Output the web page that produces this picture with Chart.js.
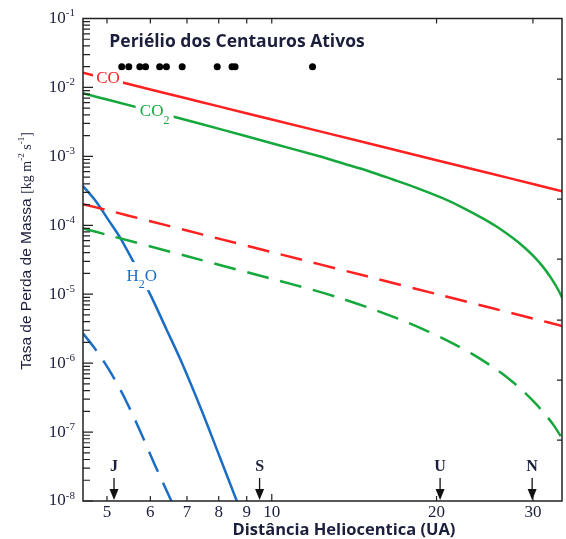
<!DOCTYPE html>
<html>
<head>
<meta charset="utf-8">
<script src="https://cdn.jsdelivr.net/npm/chart.js@4.4.0/dist/chart.umd.min.js"></script>
<style>
  html, body { margin: 0; padding: 0; background: #fff; }
</style>
</head>
<body>
<canvas id="massLoss" width="566" height="539"></canvas>
<script>
// Distances in UA, rates in kg m^-2 s^-1
const coDist    = [4.52, 5, 6, 7, 8, 10, 15, 20, 25, 30, 34];
const coSolid   = [0.0163, 0.0134, 0.00934, 0.00691, 0.00531, 0.00343, 0.00155, 0.000879, 0.000568, 0.000397, 0.000310];
const coDashed  = [2.03e-4, 1.66e-4, 1.145e-4, 8.38e-5, 6.40e-5, 4.08e-5, 1.80e-5, 1.005e-5, 6.4e-6, 4.44e-6, 3.44e-6];

const co2Dist   = [4.52, 5.0, 6.73, 8.08, 10, 12.17, 13.51, 15.0, 16.65, 18.49, 20.52, 22.31, 24.25,
                   25.82, 27.49, 28.91, 30.14, 31.43, 32.5, 33.32, 34.02];
const co2Solid  = [8.21e-3, 6.67e-3, 3.63e-3, 2.46e-3, 1.55e-3, 1.01e-3, 7.88e-4, 6.14e-4, 4.62e-4, 3.44e-4, 2.47e-4, 1.81e-4, 1.27e-4,
                   9.42e-5, 6.63e-5, 4.81e-5, 3.50e-5, 2.39e-5, 1.64e-5, 1.18e-5, 8.57e-6];

const co2DashDist = [4.52, 5.0, 6.98, 10, 11.82, 13.23, 15.0, 17.0, 19.27, 21.4, 23.26, 25.28,
                     26.92, 28.67, 30.14, 31.56, 32.77, 34.02];
const co2Dashed   = [9.02e-5, 7.28e-5, 3.58e-5, 1.67e-5, 1.17e-5, 8.96e-6, 6.41e-6, 4.42e-6, 2.90e-6, 1.94e-6, 1.35e-6, 8.89e-7,
                     6.20e-7, 4.06e-7, 2.74e-7, 1.83e-7, 1.24e-7, 7.78e-8];

const h2oDist   = [4.52, 4.753, 5.018, 5.277, 5.641, 6.006, 6.423, 6.866, 7.465, 8.015, 8.64];
const h2oSolid  = [3.71e-4, 2.32e-4, 1.23e-4, 6.74e-5, 2.56e-5, 9.70e-6, 3.08e-6, 9.73e-7, 1.96e-7, 4.57e-8, 9.8e-9];

const h2oDashDist = [4.52, 4.714, 4.914, 5.124, 5.388, 5.736, 6.107, 6.558];
const h2oDashed   = [2.70e-6, 1.77e-6, 1.11e-6, 6.48e-7, 3.10e-7, 1.07e-7, 3.42e-8, 9.9e-9];

const centaurDist = [5.32, 5.48, 5.74, 5.88, 6.24, 6.42, 6.86, 7.95, 8.46, 8.57, 11.87];
const centaurRate = [0.02, 0.02, 0.02, 0.02, 0.02, 0.02, 0.02, 0.02, 0.02, 0.02, 0.02];

const planetNames = ['J', 'S', 'U', 'N'];
const planetDist  = [5.15, 9.5, 20.3, 29.9];

const xTicks     = [5, 6, 7, 8, 9, 10, 20, 30];
const yDecades   = [-8, -7, -6, -5, -4, -3, -2, -1];
const rightTicks = [1.32e-2, 1.78e-3, 2.40e-4, 3.23e-5, 4.21e-6, 5.66e-7, 7.62e-8];

const RED = '#ff2020';
const GREEN = '#16a83c';
const BLUE = '#1b6ec4';
const INK = '#1c1f3c';
const SERIF = '"Liberation Serif", "DejaVu Serif", serif';

function pts(xs, ys) {
    return xs.map((v, i) => ({ x: v, y: ys[i] }));
}

function curve(label, xs, ys, color, dashed) {
    return {
        label: label,
        data: pts(xs, ys),
        showLine: true,
        borderColor: color,
        borderWidth: 2.5,
        borderDash: dashed ? [22, 12] : [],
        pointRadius: 0,
        tension: 0.3,
        fill: false
    };
}

// text with a raised exponent, e.g. 10^-3
function supText(ctx, base, sup, x, y, baseSize, supSize, alignRight) {
    ctx.font = baseSize + 'px ' + SERIF;
    const bw = ctx.measureText(base).width;
    ctx.font = supSize + 'px ' + SERIF;
    const sw = ctx.measureText(sup).width;
    const x0 = alignRight ? x - bw - sw : x;
    ctx.textAlign = 'left';
    ctx.textBaseline = 'middle';
    ctx.font = baseSize + 'px ' + SERIF;
    ctx.fillText(base, x0, y);
    ctx.font = supSize + 'px ' + SERIF;
    ctx.fillText(sup, x0 + bw, y - 5);
}

// curve label with a lowered index and a white patch that cuts the line
function curveLabel(ctx, parts, cx, cy, color, box) {
    ctx.fillStyle = '#fff';
    ctx.fillRect(cx - box[0] / 2, cy - box[1] / 2, box[0], box[1]);
    let w = 0;
    parts.forEach(p => {
        ctx.font = (p.sub ? 12 : 17) + 'px ' + SERIF;
        w += ctx.measureText(p.t).width;
    });
    let x0 = cx - w / 2;
    ctx.fillStyle = color;
    ctx.textAlign = 'left';
    ctx.textBaseline = 'middle';
    parts.forEach(p => {
        ctx.font = (p.sub ? 12 : 17) + 'px ' + SERIF;
        ctx.fillText(p.t, x0, cy + (p.sub ? 9 : 0));
        x0 += ctx.measureText(p.t).width;
    });
}

const decorations = {
    id: 'decorations',
    afterDatasetsDraw(chart) {
        const { ctx, chartArea: a, scales: { x, y } } = chart;
        ctx.save();

        // labels sitting on the curves
        curveLabel(ctx, [{ t: 'CO' }], x.getPixelForValue(5.02), y.getPixelForValue(0.0134), RED, [30, 16]);
        curveLabel(ctx, [{ t: 'CO' }, { t: '2', sub: true }], x.getPixelForValue(6.11), y.getPixelForValue(0.0044), GREEN, [38, 22]);
        curveLabel(ctx, [{ t: 'H' }, { t: '2', sub: true }, { t: 'O' }], x.getPixelForValue(5.79), y.getPixelForValue(1.83e-5), BLUE, [36, 28]);

        // frame
        ctx.strokeStyle = '#222';
        ctx.lineWidth = 1.5;
        ctx.strokeRect(a.left, a.top, a.right - a.left, a.bottom - a.top);

        ctx.lineWidth = 1.2;
        ctx.beginPath();
        // left axis: decades and minor ticks
        yDecades.forEach(d => {
            const py = y.getPixelForValue(Math.pow(10, d));
            ctx.moveTo(a.left, py); ctx.lineTo(a.left + 10, py);
            if (d < -1) {
                for (let k = 2; k <= 9; k++) {
                    const my = y.getPixelForValue(k * Math.pow(10, d));
                    ctx.moveTo(a.left, my); ctx.lineTo(a.left + 7, my);
                }
            }
        });
        // right axis
        rightTicks.forEach(v => {
            const py = y.getPixelForValue(v);
            ctx.moveTo(a.right, py); ctx.lineTo(a.right - 5, py);
        });
        // top and bottom axes
        xTicks.forEach(v => {
            const px = x.getPixelForValue(v);
            ctx.moveTo(px, a.top); ctx.lineTo(px, a.top + 5);
            ctx.moveTo(px, a.bottom); ctx.lineTo(px, a.bottom - (v === 10 ? 7 : 5));
        });
        ctx.stroke();

        // tick labels
        ctx.fillStyle = INK;
        yDecades.forEach(d => {
            supText(ctx, '10', String(d), a.left - 8, y.getPixelForValue(Math.pow(10, d)), 17, 11, true);
        });
        ctx.font = '17px ' + SERIF;
        ctx.textAlign = 'center';
        ctx.textBaseline = 'middle';
        xTicks.forEach(v => {
            ctx.fillText(String(v), x.getPixelForValue(v), a.bottom + 12);
        });

        // planets
        ctx.font = 'bold 16px ' + SERIF;
        ctx.strokeStyle = '#111';
        ctx.lineWidth = 1.3;
        planetNames.forEach((n, i) => {
            const px = x.getPixelForValue(planetDist[i]);
            ctx.fillStyle = INK;
            ctx.fillText(n, px, a.bottom - 34);
            ctx.beginPath();
            ctx.moveTo(px, a.bottom - 23);
            ctx.lineTo(px, a.bottom - 6);
            ctx.stroke();
            ctx.fillStyle = '#111';
            ctx.beginPath();
            ctx.moveTo(px - 4.5, a.bottom - 12);
            ctx.lineTo(px + 4.5, a.bottom - 12);
            ctx.lineTo(px, a.bottom - 1);
            ctx.closePath();
            ctx.fill();
        });

        // titles
        ctx.fillStyle = INK;
        ctx.textAlign = 'center';
        ctx.font = 'bold 17.5px "Open Sans", sans-serif';
        ctx.fillText('Periélio dos Centauros Ativos', 237, 42);
        ctx.font = 'bold 16.5px "Open Sans", sans-serif';
        ctx.fillText('Distância Heliocentica (UA)', 344, 530);

        ctx.save();
        ctx.translate(27, 284);
        ctx.rotate(-Math.PI / 2);
        ctx.font = '15.5px "Liberation Sans Narrow", "Liberation Sans", sans-serif';
        ctx.fillText('Tasa de Perda de Massa', 0, 0);
        ctx.restore();

        // [kg m^-2 s^-1], rotated
        ctx.save();
        ctx.translate(27, 163);
        ctx.rotate(-Math.PI / 2);
        const unit = [{ t: '[kg m' }, { t: '-2', s: true }, { t: ' s' }, { t: '-1', s: true }, { t: ']' }];
        let uw = 0;
        unit.forEach(p => { ctx.font = (p.s ? 9 : 14) + 'px ' + SERIF; uw += ctx.measureText(p.t).width; });
        let ux = -uw / 2;
        ctx.textAlign = 'left';
        unit.forEach(p => {
            ctx.font = (p.s ? 9 : 14) + 'px ' + SERIF;
            ctx.fillText(p.t, ux, p.s ? -5 : 0);
            ux += ctx.measureText(p.t).width;
        });
        ctx.restore();

        ctx.restore();
    }
};

new Chart(document.getElementById('massLoss'), {
    type: 'scatter',
    data: {
        datasets: [
            curve('CO', coDist, coSolid, RED, false),
            curve('CO2', co2Dist, co2Solid, GREEN, false),
            curve('CO (tracejado)', coDist, coDashed, RED, true),
            curve('CO2 (tracejado)', co2DashDist, co2Dashed, GREEN, true),
            curve('H2O', h2oDist, h2oSolid, BLUE, false),
            curve('H2O (tracejado)', h2oDashDist, h2oDashed, BLUE, true),
            {
                label: 'Centauros',
                data: pts(centaurDist, centaurRate),
                showLine: false,
                pointRadius: 3.5,
                pointBackgroundColor: '#000',
                pointBorderWidth: 0
            }
        ]
    },
    options: {
        responsive: false,
        devicePixelRatio: 1,
        animation: false,
        layout: { padding: { left: 83, top: 18.5, right: 1, bottom: 38 } },
        plugins: {
            legend: { display: false },
            tooltip: { enabled: false }
        },
        scales: {
            x: { type: 'logarithmic', min: 4.52, max: 33.9, display: false },
            y: { type: 'logarithmic', min: 1e-8, max: 1e-1, display: false }
        }
    },
    plugins: [decorations]
});
</script>
</body>
</html>
